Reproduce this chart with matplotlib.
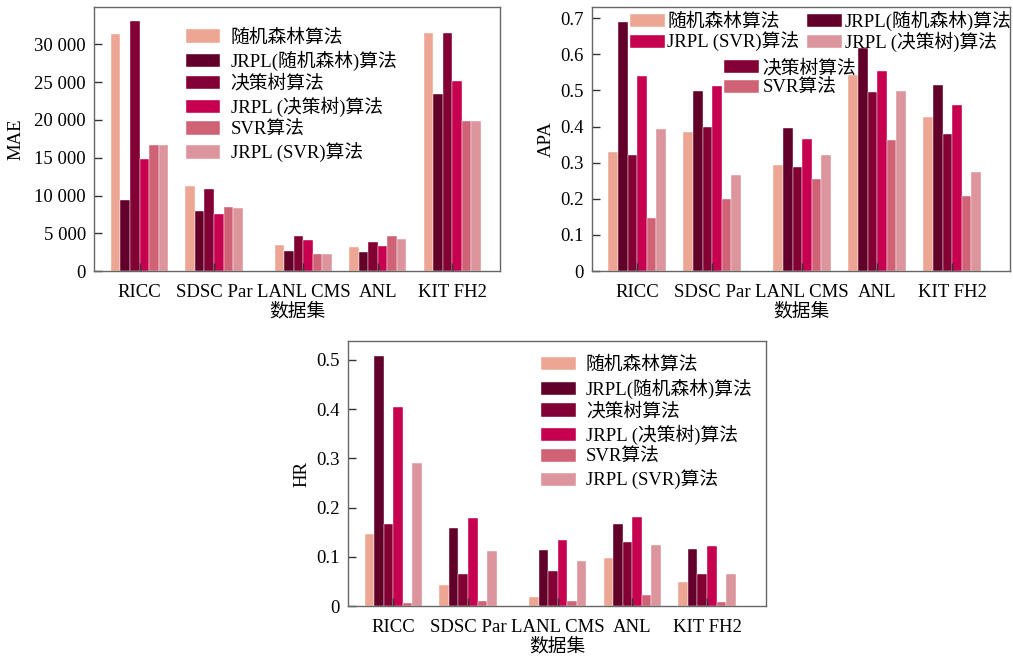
import numpy as np
import matplotlib
matplotlib.use("Agg")
import matplotlib.pyplot as plt
from matplotlib.ticker import FuncFormatter

plt.rcParams['font.family'] = ['Liberation Serif', 'Noto Sans CJK SC']
plt.rcParams['font.size'] = 13.5
plt.rcParams['axes.unicode_minus'] = False

# data
datasets = ['RICC', 'SDSC Par', 'LANL CMS', 'ANL', 'KIT FH2']
methods = ['随机森林算法', 'JRPL(随机森林)算法', '决策树算法',
           'JRPL (决策树)算法', 'SVR算法', 'JRPL (SVR)算法']
colors = ['#EDA693', '#62002A', '#820033', '#C6004F', '#D06276', '#DC959C']

mae_rf      = [31400, 11270, 3400, 3230, 31500]
mae_jrpl_rf = [9400, 8000, 2700, 2520, 23400]
mae_dt      = [33100, 10830, 4680, 3890, 31500]
mae_jrpl_dt = [14800, 7560, 4070, 3270, 25200]
mae_svr     = [16700, 8530, 2250, 4680, 19930]
mae_jrpl_svr = [16700, 8350, 2250, 4200, 19930]

apa_rf      = [0.329, 0.386, 0.295, 0.544, 0.426]
apa_jrpl_rf = [0.690, 0.499, 0.395, 0.617, 0.515]
apa_dt      = [0.322, 0.399, 0.287, 0.496, 0.380]
apa_jrpl_dt = [0.540, 0.513, 0.366, 0.554, 0.461]
apa_svr     = [0.146, 0.200, 0.254, 0.362, 0.208]
apa_jrpl_svr = [0.392, 0.265, 0.322, 0.498, 0.275]

hr_rf      = [0.146, 0.043, 0.018, 0.097, 0.048]
hr_jrpl_rf = [0.507, 0.158, 0.113, 0.167, 0.116]
hr_dt      = [0.166, 0.065, 0.071, 0.129, 0.065]
hr_jrpl_dt = [0.405, 0.179, 0.134, 0.181, 0.122]
hr_svr     = [0.007, 0.011, 0.011, 0.022, 0.009]
hr_jrpl_svr = [0.291, 0.111, 0.092, 0.124, 0.065]

group_x = np.array([0, 1, 2.2, 3.2, 4.2])
w = 0.128


def draw(ax, series, ylim, xlim, ylabel):
    bars = []
    for i, vals in enumerate(series):
        b = ax.bar(group_x + (i - 2.5) * w, vals, w, color=colors[i],
                   edgecolor='white', linewidth=0.3)
        bars.append(b)
    ax.set_xlim(*xlim)
    ax.set_ylim(*ylim)
    ax.set_xticks(group_x)
    ax.set_xticklabels(datasets)
    ax.tick_params(direction='in', length=6, width=1, color='#333333')
    ax.tick_params(axis='x', pad=9)
    ax.tick_params(axis='y', pad=6)
    for s in ax.spines.values():
        s.set_color('#666666')
        s.set_linewidth(1)
    ax.set_xlabel('数据集', labelpad=2)
    ax.set_ylabel(ylabel)
    return bars


fig = plt.figure(figsize=(10.13, 6.58), dpi=100)

ax1 = fig.add_axes([0.0931, 0.5881, 0.4005, 0.4017])
b1 = draw(ax1, [mae_rf, mae_jrpl_rf, mae_dt, mae_jrpl_dt, mae_svr, mae_jrpl_svr],
          (0, 35000), (-0.607, 4.84), 'MAE')
ax1.set_yticks(np.arange(0, 30001, 5000))
ax1.yaxis.set_major_formatter(FuncFormatter(lambda v, p: f"{int(v):,}".replace(",", " ")))
ax1.yaxis.labelpad = 7
ax1.legend(b1, methods, loc='upper left', bbox_to_anchor=(0.225, 0.915),
           frameon=False, borderpad=0, borderaxespad=0, labelspacing=0.22,
           handlelength=1.85, handleheight=0.7, handletextpad=0.55)

ax2 = fig.add_axes([0.5847, 0.5881, 0.4123, 0.4017])
b2 = draw(ax2, [apa_rf, apa_jrpl_rf, apa_dt, apa_jrpl_dt, apa_svr, apa_jrpl_svr],
          (0, 0.732), (-0.6, 4.97), 'APA')
ax2.set_yticks(np.arange(0, 0.71, 0.1))
ax2.yaxis.set_major_formatter(FuncFormatter(lambda v, p: '0' if v == 0 else f"{v:.1f}"))
leg = ax2.legend([b2[0], b2[3], b2[1], b2[5]],
                 [methods[0], 'JRPL (SVR)算法', methods[1], 'JRPL (决策树)算法'],
                 ncol=2, loc='upper left', bbox_to_anchor=(0.09, 0.985),
                 frameon=False, borderpad=0, borderaxespad=0, labelspacing=0.05,
                 handlelength=1.85, handleheight=0.7, handletextpad=0.15,
                 columnspacing=0.4)
ax2.add_artist(leg)
ax2.legend([b2[2], b2[4]], [methods[2], methods[4]], loc='upper left',
           bbox_to_anchor=(0.315, 0.80), frameon=False, borderpad=0,
           borderaxespad=0, labelspacing=0.15, handlelength=1.85,
           handleheight=0.7, handletextpad=0.2)

ax3 = fig.add_axes([0.3438, 0.0790, 0.4124, 0.4027])
b3 = draw(ax3, [hr_rf, hr_jrpl_rf, hr_dt, hr_jrpl_dt, hr_svr, hr_jrpl_svr],
          (0, 0.538), (-0.604, 4.99), 'HR')
ax3.set_yticks(np.arange(0, 0.51, 0.1))
ax3.yaxis.set_major_formatter(FuncFormatter(lambda v, p: '0' if v == 0 else f"{v:.1f}"))
ax3.legend(b3, methods, loc='upper left', bbox_to_anchor=(0.461, 0.94),
           frameon=False, borderpad=0, borderaxespad=0, labelspacing=0.22,
           handlelength=1.85, handleheight=0.7, handletextpad=0.55)

fig.savefig('out.png', dpi=100)
